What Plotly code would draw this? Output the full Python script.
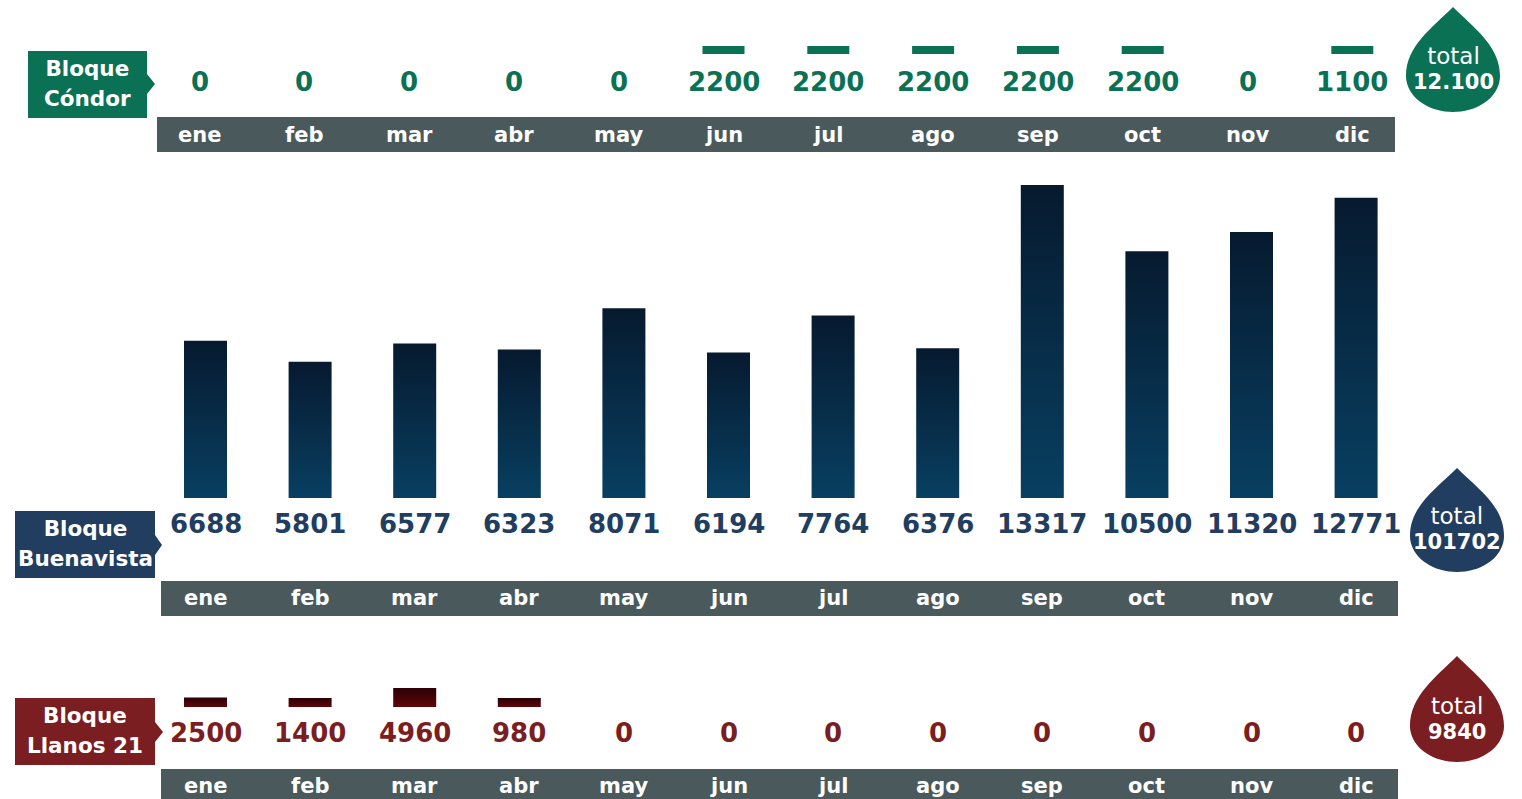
import math
import plotly.graph_objects as go

# ---------------- data ----------------
months = ["ene", "feb", "mar", "abr", "may", "jun", "jul", "ago", "sep", "oct", "nov", "dic"]
condor = [0, 0, 0, 0, 0, 2200, 2200, 2200, 2200, 2200, 0, 1100]
condor_total = "12.100"
buenavista = [6688, 5801, 6577, 6323, 8071, 6194, 7764, 6376, 13317, 10500, 11320, 12771]
buenavista_total = "101702"
llanos = [2500, 1400, 4960, 980, 0, 0, 0, 0, 0, 0, 0, 0]
llanos_total = "9840"

# ---------------- styling ----------------
W, H = 1522, 799
FONT = "'DejaVu Sans', Verdana, sans-serif"
GREEN = "#0b7155"
NAVY = "#213d5f"
MAROON = "#7b1e22"
BAND = "#4a5a5c"
WHITE = "#ffffff"


def px(x):
    return x / W


def py(y):
    return 1 - y / H


fig = go.Figure()

blocks = [
    dict(ax="", vals=condor, c0=199.5, step=104.8, base=54, k=8 / 2200, minpx=8, hw=21,
         top=GREEN, bottom=GREEN, color=GREEN, label_y=82, band=(117, 152), month_y=135,
         bandx=(157, 1395), box=(28, 51, 147, 118, 155, 84), boxtext=["Bloque", "Cóndor"],
         drop=(1453, 7, 112), total=condor_total),
    dict(ax="2", vals=buenavista, c0=205.5, step=104.6, base=498, k=313 / 13317, minpx=0, hw=21.5,
         top="#061a2f", bottom="#083f61", color=NAVY, label_y=524, band=(581, 616), month_y=598,
         bandx=(161, 1398), box=(15, 511, 155, 578, 162, 545), boxtext=["Bloque", "Buenavista"],
         drop=(1457, 468, 572), total=buenavista_total),
    dict(ax="3", vals=llanos, c0=205.5, step=104.6, base=707, k=19 / 4960, minpx=9, hw=21.5,
         top="#2a0006", bottom="#5e0708", color=MAROON, label_y=733, band=(769, 805), month_y=786,
         bandx=(161, 1398), box=(15, 698, 155, 765, 163, 732), boxtext=["Bloque", "Llanos 21"],
         drop=(1457, 656, 762), total=llanos_total),
]

shapes = []
annotations = []
layout_axes = {}

for b in blocks:
    xa = "x" + b["ax"]
    ya = "y" + b["ax"]
    xname = "xaxis" + b["ax"]
    yname = "yaxis" + b["ax"]
    step = b["step"]
    k = b["k"]
    xr = [-b["c0"] / step, (W - b["c0"]) / step]
    yr = [-(H - b["base"]) / k, b["base"] / k]
    xcfg = dict(range=xr, visible=False, fixedrange=True, domain=[0, 1])
    ycfg = dict(range=yr, visible=False, fixedrange=True, domain=[0, 1])
    if b["ax"]:
        xcfg.update(overlaying="x", anchor=ya)
        ycfg.update(overlaying="y", anchor=xa)
    else:
        xcfg.update(anchor="y")
        ycfg.update(anchor="x")
    layout_axes[xname] = xcfg
    layout_axes[yname] = ycfg

    hw = b["hw"] / step
    floor = b["minpx"] / k
    for i, (m, v) in enumerate(zip(months, b["vals"])):
        if v <= 0:
            continue
        h = max(v, floor)
        fig.add_trace(go.Scatter(
            x=[i - hw, i - hw, i + hw, i + hw, i - hw],
            y=[0, h, h, 0, 0],
            xaxis=xa, yaxis=ya,
            mode="lines", line=dict(width=0),
            fill="toself",
            fillcolor=b["bottom"],
            fillgradient=dict(type="vertical", colorscale=[[0, b["bottom"]], [1, b["top"]]]),
            hoverinfo="text", hoveron="fills",
            text=f"{m}: {v}",
            showlegend=False,
        ))

    for i, (m, v) in enumerate(zip(months, b["vals"])):
        annotations.append(dict(
            x=i, xref=xa, y=py(b["label_y"]), yref="paper",
            text=f"<b>{v}</b>", showarrow=False,
            font=dict(family=FONT, size=26, color=b["color"]),
            xanchor="center", yanchor="middle",
        ))
        annotations.append(dict(
            x=i, xref=xa, y=py(b["month_y"]), yref="paper",
            text=f"<b>{m}</b>", showarrow=False,
            font=dict(family=FONT, size=21, color=WHITE),
            xanchor="center", yanchor="middle",
        ))

    shapes.append(dict(type="rect", xref="paper", yref="paper",
                       x0=px(b["bandx"][0]), x1=px(b["bandx"][1]),
                       y0=py(b["band"][1]), y1=py(b["band"][0]),
                       fillcolor=BAND, line=dict(width=0), layer="below"))

    # label box with arrow
    x0, y0, x1, y1, tx, ty = b["box"]
    half = 10
    path = (f"M {px(x0)},{py(y0)} L {px(x1)},{py(y0)} L {px(x1)},{py(ty - half)} "
            f"L {px(tx)},{py(ty)} L {px(x1)},{py(ty + half)} L {px(x1)},{py(y1)} "
            f"L {px(x0)},{py(y1)} Z")
    shapes.append(dict(type="path", xref="paper", yref="paper", path=path,
                       fillcolor=b["color"], line=dict(width=0)))
    annotations.append(dict(
        x=px((x0 + x1) / 2), y=py((y0 + y1) / 2 - 1), xref="paper", yref="paper",
        text=(f"<span style='font-size:21.5px'><b>{b['boxtext'][0]}</b></span><br>"
              f"<span style='font-size:21.5px'><b>{b['boxtext'][1]}</b></span>"),
        showarrow=False,
        font=dict(family=FONT, size=23, color=WHITE), align="center",
        xanchor="center", yanchor="middle",
    ))

    # drop with total
    cx, top, bot = b["drop"]
    rx, ry = 47, 36
    cy = bot - ry
    c1 = (cx + 21, top + 21)
    c2 = (cx + rx, cy - 30)
    d = f"M {px(cx)},{py(top)} C {px(c1[0])},{py(c1[1])} {px(c2[0])},{py(c2[1])} {px(cx + rx)},{py(cy)} "
    n = 36
    for j in range(1, n + 1):
        t = math.pi * j / n
        d += f"L {px(cx + rx * math.cos(t))},{py(cy + ry * math.sin(t))} "
    c3 = (cx - rx, cy - 30)
    c4 = (cx - 21, top + 21)
    d += f"C {px(c3[0])},{py(c3[1])} {px(c4[0])},{py(c4[1])} {px(cx)},{py(top)} Z"
    shapes.append(dict(type="path", xref="paper", yref="paper", path=d,
                       fillcolor=b["color"], line=dict(width=0)))
    annotations.append(dict(
        x=px(cx), y=py(cy - 8), xref="paper", yref="paper",
        text=(f"<span style='font-size:23px'>total</span><br>"
              f"<span style='font-size:21px'><b>{b['total']}</b></span>"),
        showarrow=False,
        font=dict(family=FONT, size=19, color=WHITE), align="center",
        xanchor="center", yanchor="middle",
    ))

fig.update_layout(
    width=W, height=H,
    margin=dict(l=0, r=0, t=0, b=0),
    paper_bgcolor="white", plot_bgcolor="white",
    showlegend=False,
    shapes=shapes,
    annotations=annotations,
    **layout_axes,
)

fig.write_html(
    "out.html",
    config={"displayModeBar": False},
    post_script="document.body.style.margin='0';document.body.style.overflow='hidden';",
)
